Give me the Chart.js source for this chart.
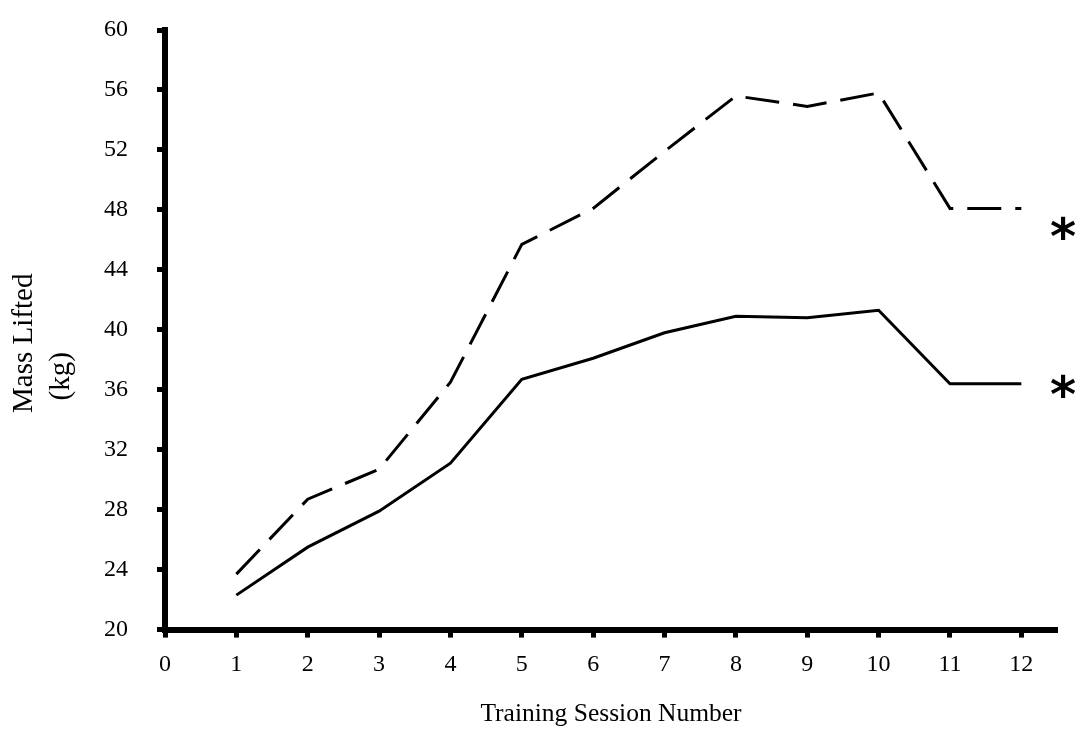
<!DOCTYPE html>
<html>
<head>
<meta charset="utf-8">
<script src="https://cdn.jsdelivr.net/npm/chart.js@4"></script>
<style>
  html, body { margin: 0; padding: 0; background: #fff; }
  #wrap { width: 1076px; height: 730px; }
</style>
</head>
<body>
<div id="wrap"><canvas id="chart" width="1076" height="730"></canvas></div>
<script>
// Training sessions and mass lifted (kg)
const sessions = [1, 2, 3, 4, 5, 6, 7, 8, 9, 10, 11, 12];
const solidSeries = [22.3, 25.5, 27.9, 31.1, 36.7, 38.1, 39.8, 40.9, 40.8, 41.3, 36.4, 36.4];
const dashedSeries = [23.7, 28.7, 30.7, 36.5, 45.7, 48.1, 51.9, 55.6, 54.9, 55.8, 48.1, 48.1];

const yTicks = [20, 24, 28, 32, 36, 40, 44, 48, 52, 56, 60];
const xTicks = [0, 1, 2, 3, 4, 5, 6, 7, 8, 9, 10, 11, 12];

// significance markers next to the last points
const markerLabels = ['*', '*'];
const markerValues = [45.9, 35.4];

const yTitleLines = ['Mass Lifted', '(kg)'];
const xTitle = 'Training Session Number';

const serif = '"Liberation Serif", "Times New Roman", serif';

const toPoints = (vals) => vals.map((v, i) => ({ x: sessions[i], y: v }));

// asterisks to the right of the plot + the two-line y title
const extrasPlugin = {
    id: 'extras',
    afterDraw(chart) {
        const ctx = chart.ctx;
        const xs = chart.scales.x;
        const ys = chart.scales.y;
        ctx.save();
        ctx.fillStyle = '#000';
        ctx.font = 'bold 50px "DejaVu Sans", sans-serif';
        ctx.textAlign = 'center';
        ctx.textBaseline = 'middle';
        markerLabels.forEach((label, i) => {
            ctx.fillText(label, xs.getPixelForValue(12.5) + 6, ys.getPixelForValue(markerValues[i]));
        });

        // y title, rotated
        ctx.font = '29px ' + serif;
        ctx.textBaseline = 'middle';
        ctx.save();
        ctx.translate(24, ys.getPixelForValue(39.1));
        ctx.rotate(-Math.PI / 2);
        ctx.fillText(yTitleLines[0], 0, 0);
        ctx.restore();
        ctx.save();
        ctx.translate(61, ys.getPixelForValue(36.9));
        ctx.rotate(-Math.PI / 2);
        ctx.fillText(yTitleLines[1], 0, 0);
        ctx.restore();
        ctx.restore();
    }
};

new Chart(document.getElementById('chart'), {
    type: 'line',
    data: {
        datasets: [
            {
                label: 'Solid',
                data: toPoints(solidSeries),
                borderColor: '#000',
                borderWidth: 3,
                pointRadius: 0,
                tension: 0,
                fill: false
            },
            {
                label: 'Dashed',
                data: toPoints(dashedSeries),
                borderColor: '#000',
                borderWidth: 3,
                borderDash: [34, 14],
                pointRadius: 0,
                tension: 0,
                fill: false
            }
        ]
    },
    options: {
        responsive: false,
        animation: false,
        layout: { padding: { top: 30, right: 19, left: 75, bottom: 0 } },
        plugins: {
            legend: { display: false },
            tooltip: { enabled: false }
        },
        scales: {
            x: {
                type: 'linear',
                min: 0,
                max: 12.5,
                afterBuildTicks: (axis) => {
                    axis.ticks = xTicks.map(v => ({ value: v }));
                },
                border: { color: '#000', width: 6 },
                grid: {
                    drawOnChartArea: false,
                    color: '#000',
                    tickLength: 8,
                    tickWidth: 5
                },
                ticks: {
                    color: '#000',
                    font: { family: serif, size: 24 },
                    padding: 13,
                    maxRotation: 0
                },
                title: {
                    display: true,
                    text: xTitle,
                    color: '#000',
                    font: { family: serif, size: 25.5 },
                    padding: { top: 7, bottom: 0 }
                }
            },
            y: {
                min: 20,
                max: 60,
                afterBuildTicks: (axis) => {
                    axis.ticks = yTicks.map(v => ({ value: v }));
                },
                // the label gap should not push the plot down
                afterFit: (scale) => {
                    scale.paddingTop = 14;
                    scale.paddingBottom = 14;
                },
                border: { color: '#000', width: 6 },
                grid: {
                    drawOnChartArea: false,
                    color: '#000',
                    tickLength: 8,
                    tickWidth: 5
                },
                ticks: {
                    color: '#000',
                    font: { family: serif, size: 24 },
                    padding: 29
                }
            }
        }
    },
    plugins: [extrasPlugin]
});
</script>
</body>
</html>
